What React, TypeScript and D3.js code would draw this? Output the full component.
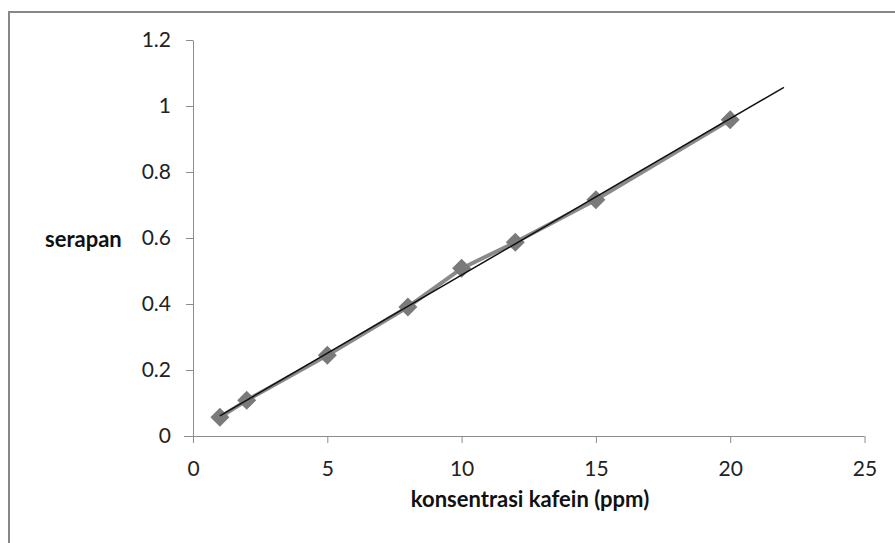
import React, { useEffect, useRef } from "react";
import * as d3 from "d3";

const concentration = [1, 2, 5, 8, 10, 12, 15, 20];
const absorbance = [0.057, 0.108, 0.245, 0.391, 0.508, 0.587, 0.716, 0.958];
const xTicks = [0, 5, 10, 15, 20, 25];
const yTicks = [0, 0.2, 0.4, 0.6, 0.8, 1, 1.2];
const trendRange = [1, 22];

export default function App() {
  const ref = useRef<SVGSVGElement>(null);

  useEffect(() => {
    document.body.style.margin = "0";
    const width = 895;
    const height = 543;
    const margin = { top: 40, right: 30, bottom: 107, left: 193 };
    const innerWidth = 864.5 - margin.left;
    const innerHeight = height - margin.top - margin.bottom;

    const svg = d3.select(ref.current).attr("width", width).attr("height", height);
    svg.selectAll("*").remove();

    // frame (only top and left are visible in the original)
    svg.append("path")
      .attr("d", `M9,${height} V12 H${width}`)
      .attr("fill", "none")
      .attr("stroke", "#878787")
      .attr("stroke-width", 2);

    const g = svg.append("g").attr("transform", `translate(${margin.left}, ${margin.top})`);

    const x = d3.scaleLinear().domain([0, 25]).range([0, innerWidth]);
    const y = d3.scaleLinear().domain([0, 1.2]).range([innerHeight, 0]);

    const fontFamily = "Lato, 'Open Sans', sans-serif";

    // X axis
    const xAxis = g.append("g")
      .attr("transform", `translate(0, ${innerHeight})`)
      .call(d3.axisBottom(x).tickValues(xTicks).tickSize(7).tickSizeOuter(0).tickPadding(18).tickFormat(d3.format("d")));
    xAxis.select(".domain").attr("stroke", "#8c8c8c").attr("d", `M-9,0.5H${innerWidth}`);
    xAxis.selectAll(".tick line").attr("stroke", "#8c8c8c");
    xAxis.selectAll("text")
      .attr("fill", "#222")
      .style("font-family", fontFamily)
      .style("font-size", "21px");

    // Y axis
    const yAxis = g.append("g")
      .call(d3.axisLeft(y).tickValues(yTicks).tickSize(7).tickSizeOuter(0).tickPadding(15).tickFormat(d => String(+d)));
    yAxis.select(".domain").attr("stroke", "#8c8c8c");
    yAxis.selectAll(".tick line").attr("stroke", "#8c8c8c");
    yAxis.selectAll("text")
      .attr("fill", "#222")
      .style("font-family", fontFamily)
      .style("font-size", "21px");

    const data = concentration.map((c, i) => ({ c, a: absorbance[i] }));

    // data line
    g.append("path")
      .datum(data)
      .attr("fill", "none")
      .attr("stroke", "#8a8a8a")
      .attr("stroke-width", 4)
      .attr("d", d3.line<{ c: number; a: number }>().x(d => x(d.c)).y(d => y(d.a)));

    // markers
    g.selectAll("path.marker")
      .data(data)
      .enter()
      .append("path")
      .attr("class", "marker")
      .attr("transform", d => `translate(${x(d.c)}, ${y(d.a)})`)
      .attr("d", "M0,-9.5L9.5,0L0,9.5L-9.5,0Z")
      .attr("fill", "#7a7a7a");

    // linear trendline (least squares)
    const mx = d3.mean(concentration)!;
    const my = d3.mean(absorbance)!;
    const slope = d3.sum(data, d => (d.c - mx) * (d.a - my)) / d3.sum(data, d => (d.c - mx) ** 2);
    const intercept = my - slope * mx;
    g.append("path")
      .datum(trendRange)
      .attr("fill", "none")
      .attr("stroke", "#111")
      .attr("stroke-width", 1.5)
      .attr("d", d3.line<number>().x(d => x(d)).y(d => y(slope * d + intercept)));

    // axis titles
    svg.append("text")
      .attr("text-anchor", "middle")
      .attr("x", 530)
      .attr("y", 507)
      .style("font-family", fontFamily)
      .style("font-weight", "bold")
      .style("font-size", "22px")
      .attr("fill", "#111")
      .text("konsentrasi kafein (ppm)");

    svg.append("text")
      .attr("text-anchor", "start")
      .attr("x", 45)
      .attr("y", 247)
      .style("font-family", fontFamily)
      .style("font-weight", "bold")
      .style("font-size", "22px")
      .attr("fill", "#111")
      .text("serapan");
  }, []);

  return <svg ref={ref} style={{ display: "block" }}></svg>;
}
